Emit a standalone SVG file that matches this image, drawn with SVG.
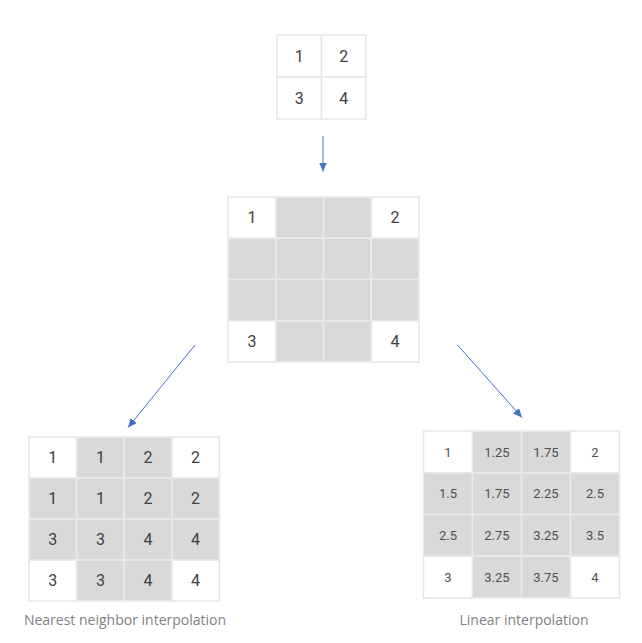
<svg xmlns="http://www.w3.org/2000/svg" width="642" height="643" viewBox="0 0 642 643">
<style>
.w{fill:#ffffff;stroke:#e6e6e6;stroke-width:1.5}
.g{fill:#d9d9d9;stroke:#ebebeb;stroke-width:1.5}
.n{font-family:Roboto,"Liberation Sans",sans-serif;font-size:16px;fill:#404040;text-anchor:middle}
.s{font-family:Roboto,"Liberation Sans",sans-serif;font-size:13px;fill:#505050;text-anchor:middle}
.lbl{font-family:"Open Sans","Liberation Sans",sans-serif;font-size:14px;fill:#7f7f7f;text-anchor:middle}
.arr{stroke:#4472c4;stroke-width:1;fill:none;marker-end:url(#ah)}
</style>
<defs>
<marker id="ah" markerUnits="userSpaceOnUse" markerWidth="10" markerHeight="9" refX="9" refY="4" orient="auto">
<path d="M0,0 L9,4 L0,8 z" fill="#4472c4"/>
</marker>
</defs>
<rect width="642" height="643" fill="#ffffff"/>

<g id="input-grid">
<rect class="w" x="277" y="35" width="44.5" height="42"/>
<rect class="w" x="321.5" y="35" width="44.5" height="42"/>
<rect class="w" x="277" y="77" width="44.5" height="42"/>
<rect class="w" x="321.5" y="77" width="44.5" height="42"/>
<text class="n" x="299.2" y="61.5">1</text>
<text class="n" x="343.7" y="61.5">2</text>
<text class="n" x="299.2" y="103.5">3</text>
<text class="n" x="343.7" y="103.5">4</text>
</g>

<g id="upsampled-grid">
<rect class="w" x="228" y="197" width="47.75" height="41.25"/>
<rect class="g" x="275.75" y="197" width="47.75" height="41.25"/>
<rect class="g" x="323.5" y="197" width="47.75" height="41.25"/>
<rect class="w" x="371.25" y="197" width="47.75" height="41.25"/>
<rect class="g" x="228" y="238.25" width="47.75" height="41.25"/>
<rect class="g" x="275.75" y="238.25" width="47.75" height="41.25"/>
<rect class="g" x="323.5" y="238.25" width="47.75" height="41.25"/>
<rect class="g" x="371.25" y="238.25" width="47.75" height="41.25"/>
<rect class="g" x="228" y="279.5" width="47.75" height="41.25"/>
<rect class="g" x="275.75" y="279.5" width="47.75" height="41.25"/>
<rect class="g" x="323.5" y="279.5" width="47.75" height="41.25"/>
<rect class="g" x="371.25" y="279.5" width="47.75" height="41.25"/>
<rect class="w" x="228" y="320.75" width="47.75" height="41.25"/>
<rect class="g" x="275.75" y="320.75" width="47.75" height="41.25"/>
<rect class="g" x="323.5" y="320.75" width="47.75" height="41.25"/>
<rect class="w" x="371.25" y="320.75" width="47.75" height="41.25"/>
<text class="n" x="251.9" y="223.1">1</text>
<text class="n" x="395.1" y="223.1">2</text>
<text class="n" x="251.9" y="346.9">3</text>
<text class="n" x="395.1" y="346.9">4</text>
</g>

<g id="nearest-grid">
<rect class="w" x="29" y="437" width="47.6" height="41"/>
<rect class="g" x="76.6" y="437" width="47.6" height="41"/>
<rect class="g" x="124.2" y="437" width="47.6" height="41"/>
<rect class="w" x="171.8" y="437" width="47.6" height="41"/>
<rect class="g" x="29" y="478" width="47.6" height="41"/>
<rect class="g" x="76.6" y="478" width="47.6" height="41"/>
<rect class="g" x="124.2" y="478" width="47.6" height="41"/>
<rect class="g" x="171.8" y="478" width="47.6" height="41"/>
<rect class="g" x="29" y="519" width="47.6" height="41"/>
<rect class="g" x="76.6" y="519" width="47.6" height="41"/>
<rect class="g" x="124.2" y="519" width="47.6" height="41"/>
<rect class="g" x="171.8" y="519" width="47.6" height="41"/>
<rect class="w" x="29" y="560" width="47.6" height="41"/>
<rect class="g" x="76.6" y="560" width="47.6" height="41"/>
<rect class="g" x="124.2" y="560" width="47.6" height="41"/>
<rect class="w" x="171.8" y="560" width="47.6" height="41"/>
<text class="n" x="52.8" y="463">1</text>
<text class="n" x="100.4" y="463">1</text>
<text class="n" x="148" y="463">2</text>
<text class="n" x="195.6" y="463">2</text>
<text class="n" x="52.8" y="504">1</text>
<text class="n" x="100.4" y="504">1</text>
<text class="n" x="148" y="504">2</text>
<text class="n" x="195.6" y="504">2</text>
<text class="n" x="52.8" y="545">3</text>
<text class="n" x="100.4" y="545">3</text>
<text class="n" x="148" y="545">4</text>
<text class="n" x="195.6" y="545">4</text>
<text class="n" x="52.8" y="586">3</text>
<text class="n" x="100.4" y="586">3</text>
<text class="n" x="148" y="586">4</text>
<text class="n" x="195.6" y="586">4</text>
<text class="lbl" x="125" y="625">Nearest neighbor interpolation</text>
</g>

<g id="linear-grid">
<rect class="w" x="423.5" y="431" width="49" height="41.75"/>
<rect class="g" x="472.5" y="431" width="49" height="41.75"/>
<rect class="g" x="521.5" y="431" width="49" height="41.75"/>
<rect class="w" x="570.5" y="431" width="49" height="41.75"/>
<rect class="g" x="423.5" y="472.75" width="49" height="41.75"/>
<rect class="g" x="472.5" y="472.75" width="49" height="41.75"/>
<rect class="g" x="521.5" y="472.75" width="49" height="41.75"/>
<rect class="g" x="570.5" y="472.75" width="49" height="41.75"/>
<rect class="g" x="423.5" y="514.5" width="49" height="41.75"/>
<rect class="g" x="472.5" y="514.5" width="49" height="41.75"/>
<rect class="g" x="521.5" y="514.5" width="49" height="41.75"/>
<rect class="g" x="570.5" y="514.5" width="49" height="41.75"/>
<rect class="w" x="423.5" y="556.25" width="49" height="41.75"/>
<rect class="g" x="472.5" y="556.25" width="49" height="41.75"/>
<rect class="g" x="521.5" y="556.25" width="49" height="41.75"/>
<rect class="w" x="570.5" y="556.25" width="49" height="41.75"/>
<text class="s" x="448" y="456.5">1</text>
<text class="s" x="497" y="456.5">1.25</text>
<text class="s" x="546" y="456.5">1.75</text>
<text class="s" x="595" y="456.5">2</text>
<text class="s" x="448" y="498.2">1.5</text>
<text class="s" x="497" y="498.2">1.75</text>
<text class="s" x="546" y="498.2">2.25</text>
<text class="s" x="595" y="498.2">2.5</text>
<text class="s" x="448" y="540">2.5</text>
<text class="s" x="497" y="540">2.75</text>
<text class="s" x="546" y="540">3.25</text>
<text class="s" x="595" y="540">3.5</text>
<text class="s" x="448" y="581.7">3</text>
<text class="s" x="497" y="581.7">3.25</text>
<text class="s" x="546" y="581.7">3.75</text>
<text class="s" x="595" y="581.7">4</text>
<text class="lbl" x="524" y="625">Linear interpolation</text>
</g>

<g id="connectors">
<line class="arr" x1="323" y1="136" x2="323" y2="171.5"/>
<line class="arr" x1="195" y1="345" x2="128" y2="427.5"/>
<line class="arr" x1="457.5" y1="345" x2="522" y2="417.5"/>
</g>
</svg>
